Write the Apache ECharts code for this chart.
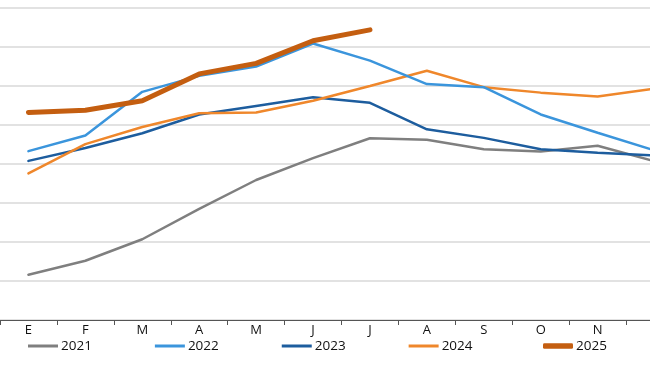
<!DOCTYPE html>
<html><head><meta charset="utf-8">
<script src="https://cdn.jsdelivr.net/npm/echarts@6/dist/echarts.min.js"></script>
<style>html,body{margin:0;padding:0;background:#fff}#c{width:650px;height:365px}</style>
</head><body><div id="c"></div>
<script>
const months = ['E','F','M','A','M','J','J','A','S','O','N','D'];
const s2021 = [1.16,1.52,2.07,2.85,3.59,4.15,4.66,4.62,4.38,4.32,4.47,4.07];
const s2022 = [4.33,4.73,5.85,6.26,6.50,7.09,6.65,6.05,5.97,5.27,4.80,4.35];
const s2023 = [4.08,4.41,4.79,5.27,5.49,5.71,5.57,4.89,4.67,4.38,4.29,4.22];
const s2024 = [3.76,4.51,4.95,5.30,5.32,5.62,6.00,6.39,5.97,5.83,5.73,5.93];
const s2025 = [5.32,5.38,5.62,6.31,6.58,7.16,7.44];
const names = ['2021','2022','2023','2024','2025'];
const colors = ['#7f7f7f','#3b95dc','#1d5d9e','#ef872b','#c45e10'];
const widths = [2.5,2.5,2.5,2.5,5];
const data = [s2021,s2022,s2023,s2024,s2025];

const legendText = {fontSize:13.5,color:'#111',fontFamily:'Open Sans',padding:[0,0,0,-2]};
const chart = echarts.init(document.getElementById('c'));
chart.setOption({
  animation:false,
  textStyle:{fontFamily:'Open Sans'},
  grid:{left:0,top:8,right:-33,bottom:45,containLabel:false,outerBoundsMode:'none'},
  legend:[
    {top:334,left:23,itemWidth:30,itemHeight:3,itemGap:63,icon:'rect',
     textStyle:legendText,data:names.slice(0,4)},
    {top:334,left:538,itemWidth:30,itemHeight:5.5,icon:'roundRect',
     textStyle:legendText,data:names.slice(4)}
  ],
  xAxis:{type:'category',data:months,
    axisLine:{lineStyle:{color:'#555',width:1.2}},
    axisTick:{show:true,length:5,lineStyle:{color:'#555'}},
    axisLabel:{color:'#111',fontSize:13,margin:4}},
  yAxis:{type:'value',min:0,max:8,interval:1,
    axisLabel:{show:false},axisLine:{show:false},axisTick:{show:false},
    splitLine:{lineStyle:{color:'#d9d9d9',width:1.5}}},
  series:names.map((n,i)=>({name:n,type:'line',data:data[i],symbol:'none',
    color:colors[i],lineStyle:{color:colors[i],width:widths[i],cap:'round'},z:i===4?5:i===1?3:2}))
});
</script></body></html>
